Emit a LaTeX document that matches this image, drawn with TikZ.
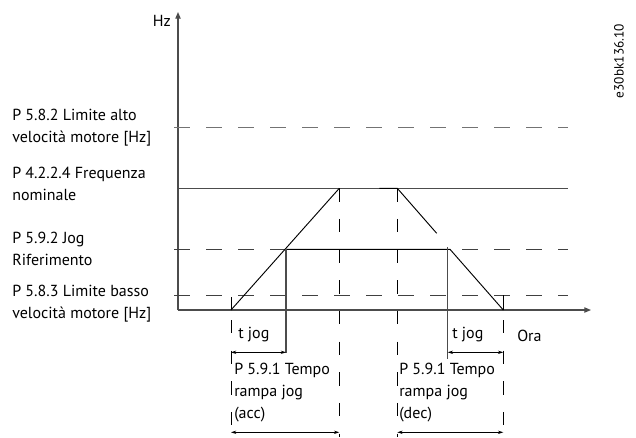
\documentclass[tikz,border=0pt]{standalone}
\usepackage{fontspec}
\setmainfont{PT Sans}
\usetikzlibrary{arrows.meta}

\begin{document}
\begin{tikzpicture}[
    x=0.75pt, y=-0.75pt,
    axis/.style={draw=black!70, line width=0.8pt, -{Triangle[length=5pt, width=4pt]}},
    level/.style={draw=black!75, line width=0.75pt, dash pattern=on 12pt off 12pt},
    nominal/.style={draw=black!70, line width=0.8pt},
    ramp/.style={draw=black, line width=0.7pt},
    marker/.style={draw=black!70, line width=0.8pt},
    guide/.style={draw=black, line width=0.7pt, dash pattern=on 10pt off 13pt},
    span/.style={draw=black, line width=0.5pt, {Stealth[length=4pt, width=2.5pt]}-{Stealth[length=4pt, width=2.5pt]}},
    lbl/.style={font=\fontsize{12}{16.3}\selectfont, inner sep=0pt, align=left},
]
\useasboundingbox (0,0) rectangle (636,437);

% axes
\coordinate (o) at (178,310);
\coordinate (ytip) at (178,12);
\coordinate (xtip) at (591,310);
\draw[axis] (o) -- (ytip);
\draw[axis] (o) -- (xtip);
\node[lbl, anchor=east] (hz) at (171,21) {Hz};
\node[lbl, anchor=west] (ora) at (517,336) {Ora};

% levels
\coordinate (hiL) at (174,127.7);  \coordinate (hiR) at (568,127.7);
\coordinate (nomL) at (178,188.3); \coordinate (nomR) at (568,188.3);
\coordinate (jogL) at (174,249.3); \coordinate (jogR) at (568,249.3);
\coordinate (loL) at (174,295.3);  \coordinate (loR) at (568,295.3);
\draw[level, draw=black!55] (hiL) -- (hiR);
\draw[nominal] (nomL) -- (nomR);
\draw[level] (jogL) -- (jogR);
\draw[level] (loL) -- (loR);

\node[lbl, anchor=west] (alto) at (12,128) {P 5.8.2 Limite alto\\velocità motore [Hz]};
\node[lbl, anchor=west] (freq) at (12,184) {P 4.2.2.4 Frequenza\\nominale};
\node[lbl, anchor=west] (jogref) at (12,249) {P 5.9.2 Jog\\Riferimento};
\node[lbl, anchor=west] (basso) at (12,304) {P 5.8.3 Limite basso\\velocità motore [Hz]};

% ramps
\coordinate (s0) at (231,310);
\coordinate (s1) at (339.3,188.3);
\coordinate (d0) at (379.3,188.3);
\coordinate (d1) at (397.3,188.3);
\coordinate (d2) at (436.7,233.3);
\coordinate (j0) at (286,249.3);
\coordinate (j1) at (450,249.3);
\coordinate (j2) at (503.3,310);
\draw[ramp] (s0) -- (s1);
\draw[ramp] (d0) -- (d1) -- (d2);
\draw[ramp] (j0) -- (j1) -- (j2);
\draw[ramp] (s0) -- ++(0,-13);
\draw[ramp] (j2) -- ++(0,-15);

% time markers
\coordinate (m1) at (286,353);
\coordinate (m2a) at (447.7,247);
\coordinate (m2) at (447.7,359);
\draw[marker] (j0) -- (m1);
\draw[marker] (m2a) -- (m2);

\coordinate (g1) at (231,320);   \coordinate (g1b) at (231,437);
\coordinate (g2) at (339.3,188.3); \coordinate (g2b) at (339.3,437);
\coordinate (g3) at (397.3,188.3); \coordinate (g3b) at (397.3,437);
\coordinate (g4) at (503.3,320); \coordinate (g4b) at (503.3,437);
\foreach \a/\b in {g1/g1b, g2/g2b, g3/g3b, g4/g4b}
    \draw[guide] (\a) -- (\b);

% spans
\draw[span] (231,352.3) -- (m1 |- 0,352.3);
\draw[span] (m2 |- 0,352.3) -- (503.3,352.3);
\draw[span] (231,432.3) -- (339.3,432.3);
\draw[span] (397.3,432.3) -- (503.3,432.3);

\node[lbl, anchor=west] (tacc) at (238,335) {t jog};
\node[lbl, anchor=west] (tdec) at (452,335) {t jog};
\node[lbl, anchor=north west] (acc) at (234,363) {P 5.9.1 Tempo\\rampa jog\\(acc)};
\node[lbl, anchor=north west] (dec) at (399,363) {P 5.9.1 Tempo\\rampa jog\\(dec)};

\node[font=\fontsize{10}{11}\selectfont, rotate=90, inner sep=0pt] (code) at (619,61) {e30bk136.10};
\end{tikzpicture}
\end{document}
